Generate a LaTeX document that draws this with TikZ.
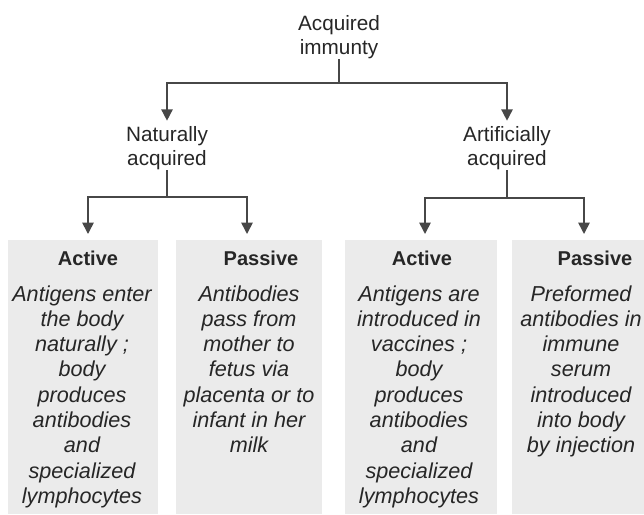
\documentclass[tikz,border=0pt]{standalone}
\usepackage{fontspec}
\setmainfont{Liberation Sans}
\usetikzlibrary{arrows.meta}

\tikzset{
	link/.style={draw=black!72, line width=0.9pt},
	pfeil/.style={link, -{Triangle[length=6.5pt,width=6.5pt]}},
	feld/.style={fill=black!8, draw=none},
	ebene/.style={font=\fontsize{11.8}{13.7}\selectfont, text=black!85, align=center, inner sep=0pt},
	kopf/.style={font=\fontsize{11.4}{13}\selectfont\bfseries, text=black!85, inner sep=0pt},
	inhalt/.style={font=\fontsize{12.3}{14.4}\selectfont\itshape, text=black!85, align=center, inner sep=0pt, anchor=north},
}

\begin{document}
\begin{tikzpicture}[x=0.02cm, y=-0.02cm]
	
	\useasboundingbox (0,0) rectangle (644,514);
	
	% Graue Hintergrundfelder
	\fill[feld] (8,240) rectangle (158,514);
	\fill[feld] (176,240) rectangle (322,514);
	\fill[feld] (345,240) rectangle (497,514);
	\fill[feld] (512,240) rectangle (644,514);
	
	% Obere Ebenen
	\node[ebene] (acq) at (339,37) {Acquired\\immunty};
	\node[ebene] (nat) at (167,148) {Naturally\\acquired};
	\node[ebene] (art) at (507,148) {Artificially\\acquired};
	
	% Pfeilenden ueber den Feldern
	\coordinate (zNA) at (88,234);
	\coordinate (zNP) at (247,234);
	\coordinate (zAA) at (425,234);
	\coordinate (zAP) at (584,234);
	
	% Verbindungen
	\draw[pfeil, shorten >=3pt] (acq.south) -- (acq.south |- 0,83) -| (nat.north);
	\draw[pfeil, shorten >=3pt] (acq.south) -- (acq.south |- 0,83) -| (art.north);
	
	\draw[pfeil] (nat.south) -- (nat.south |- 0,197) -| (zNA);
	\draw[pfeil] (nat.south) -- (nat.south |- 0,197) -| (zNP);
	\draw[pfeil] (art.south) -- (art.south |- 0,198) -| (zAA);
	\draw[pfeil] (art.south) -- (art.south |- 0,198) -| (zAP);
	
	% Ueberschriften
	\node[kopf] (kNA) at (88,258) {Active};
	\node[kopf] (kNP) at (261,258) {Passive};
	\node[kopf] (kAA) at (422,258) {Active};
	\node[kopf] (kAP) at (595,258) {Passive};
	
	% Beschreibungen
	\node[inhalt] (tNA) at (82,285) {Antigens enter\\the body\\naturally ;\\body\\produces\\antibodies\\and\\specialized\\lymphocytes};
	\node[inhalt] (tNP) at (249,285) {Antibodies\\pass from\\mother to\\fetus via\\placenta or to\\infant in her\\milk};
	\node[inhalt] (tAA) at (419,285) {Antigens are\\introduced in\\vaccines ;\\body\\produces\\antibodies\\and\\specialized\\lymphocytes};
	\node[inhalt] (tAP) at (581,285) {Preformed\\antibodies in\\immune\\serum\\introduced\\into body\\by injection};
	
\end{tikzpicture}
\end{document}
